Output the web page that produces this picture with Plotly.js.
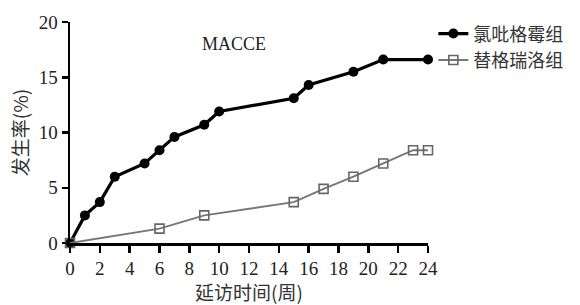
<!DOCTYPE html>
<html><head><meta charset="utf-8">
<script src="https://cdn.plot.ly/plotly-3.0.1.min.js"></script>
<style>body{margin:0;background:#fff}#c{width:580px;height:305px}</style>
</head><body><div id="c"></div>
<script>
const clopWeeks = [0, 1, 2, 3, 5, 6, 7, 9, 10, 15, 16, 19, 21, 24];
const clopRate  = [0, 2.5, 3.7, 6.0, 7.2, 8.4, 9.6, 10.7, 11.9, 13.1, 14.3, 15.5, 16.6, 16.6];
const ticaWeeks = [0, 6, 9, 15, 17, 19, 21, 23, 24];
const ticaRate  = [0, 1.3, 2.5, 3.7, 4.9, 6.0, 7.2, 8.4, 8.4];
const xTicks = [0,2,4,6,8,10,12,14,16,18,20,22,24];
const yTicks = [0,5,10,15,20];
const seriesNames = ['氯吡格霉组', '替格瑞洛组'];

const serif = 'Liberation Serif, Times New Roman, serif';
const cjk = 'Noto Sans CJK SC, sans-serif';

const traces = [
  {x: clopWeeks, y: clopRate, name: seriesNames[0], mode: 'lines+markers',
   line: {color: '#000', width: 3.2}, marker: {symbol: 'circle', size: 10, color: '#000'}, cliponaxis: false},
  {x: ticaWeeks, y: ticaRate, name: seriesNames[1], mode: 'lines+markers',
   line: {color: '#777', width: 2}, marker: {symbol: 'square-open', size: 9, color: '#666', line: {width: 1.6, color: '#666'}}, cliponaxis: false}
];

const layout = {
  width: 580, height: 305,
  margin: {l: 70, r: 145, t: 22, b: 62},
  paper_bgcolor: '#fff', plot_bgcolor: '#fff',
  showlegend: true,
  legend: {x: 1.392, xanchor: 'right', y: 1.03, yanchor: 'top', bgcolor: 'rgba(0,0,0,0)',
           font: {family: cjk, size: 18, color: '#333'}, tracegroupgap: 0, itemwidth: 30},
  xaxis: {range: [0, 24], tickvals: xTicks, ticktext: xTicks.map(String),
          showgrid: false, zeroline: false, showline: true, linecolor: '#000', linewidth: 2.5,
          ticks: 'outside', ticklen: 7, tickwidth: 2.5, tickcolor: '#000',
          tickfont: {family: serif, size: 19, color: '#222'},
          title: {text: '延访时间(周)', font: {family: cjk, size: 19, color: '#333'}, standoff: 6}},
  yaxis: {range: [0, 20], tickvals: yTicks, ticktext: yTicks.map(String),
          showgrid: false, zeroline: false, showline: true, linecolor: '#000', linewidth: 2.5,
          ticks: 'outside', ticklen: 6, tickwidth: 2.5, tickcolor: '#000',
          tickfont: {family: serif, size: 19, color: '#222'},
          title: {text: '发生率(%)', font: {family: cjk, size: 19, color: '#333'}, standoff: 5}},
  annotations: [{text: 'MACCE', xref: 'x', yref: 'y', x: 11.0, y: 18.0, showarrow: false,
                 font: {family: serif, size: 18, color: '#222'}}]
};
Plotly.newPlot('c', traces, layout, {displayModeBar: false, staticPlot: true});
</script></body></html>
